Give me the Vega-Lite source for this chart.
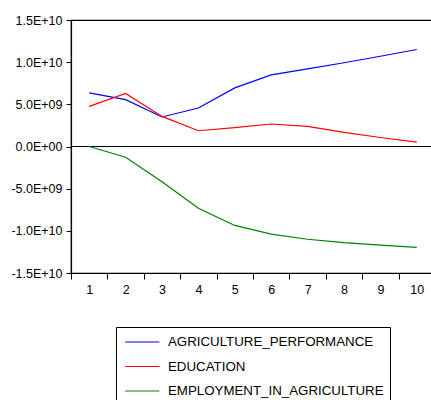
{
  "$schema": "https://vega.github.io/schema/vega-lite/v6.json",
  "width": 364,
  "height": 253,
  "autosize": {"type": "none"},
  "padding": {"left": 71, "top": 20, "right": 0, "bottom": 127},
  "background": "white",
  "config": {
    "view": {"stroke": "black", "strokeWidth": 1.2},
    "font": "Liberation Sans",
    "axis": {"grid": false, "domainColor": "black", "domainWidth": 1.2, "tickColor": "black", "labelColor": "black", "labelFont": "Liberation Sans", "labelFontSize": 12.5, "title": null}
  },
  "data": {
    "values": [
      {"t": 1, "s": "AGRICULTURE_PERFORMANCE", "v": 6.36e9},
      {"t": 2, "s": "AGRICULTURE_PERFORMANCE", "v": 5.56e9},
      {"t": 3, "s": "AGRICULTURE_PERFORMANCE", "v": 3.5e9},
      {"t": 4, "s": "AGRICULTURE_PERFORMANCE", "v": 4.57e9},
      {"t": 5, "s": "AGRICULTURE_PERFORMANCE", "v": 6.95e9},
      {"t": 6, "s": "AGRICULTURE_PERFORMANCE", "v": 8.5e9},
      {"t": 7, "s": "AGRICULTURE_PERFORMANCE", "v": 9.2e9},
      {"t": 8, "s": "AGRICULTURE_PERFORMANCE", "v": 9.93e9},
      {"t": 9, "s": "AGRICULTURE_PERFORMANCE", "v": 10.7e9},
      {"t": 10, "s": "AGRICULTURE_PERFORMANCE", "v": 11.5e9},
      {"t": 1, "s": "EDUCATION", "v": 4.76e9},
      {"t": 2, "s": "EDUCATION", "v": 6.3e9},
      {"t": 3, "s": "EDUCATION", "v": 3.57e9},
      {"t": 4, "s": "EDUCATION", "v": 1.87e9},
      {"t": 5, "s": "EDUCATION", "v": 2.23e9},
      {"t": 6, "s": "EDUCATION", "v": 2.67e9},
      {"t": 7, "s": "EDUCATION", "v": 2.38e9},
      {"t": 8, "s": "EDUCATION", "v": 1.67e9},
      {"t": 9, "s": "EDUCATION", "v": 1.07e9},
      {"t": 10, "s": "EDUCATION", "v": 0.52e9},
      {"t": 1, "s": "EMPLOYMENT_IN_AGRICULTURE", "v": 0},
      {"t": 2, "s": "EMPLOYMENT_IN_AGRICULTURE", "v": -1.27e9},
      {"t": 3, "s": "EMPLOYMENT_IN_AGRICULTURE", "v": -4.17e9},
      {"t": 4, "s": "EMPLOYMENT_IN_AGRICULTURE", "v": -7.33e9},
      {"t": 5, "s": "EMPLOYMENT_IN_AGRICULTURE", "v": -9.36e9},
      {"t": 6, "s": "EMPLOYMENT_IN_AGRICULTURE", "v": -10.4e9},
      {"t": 7, "s": "EMPLOYMENT_IN_AGRICULTURE", "v": -11.0e9},
      {"t": 8, "s": "EMPLOYMENT_IN_AGRICULTURE", "v": -11.4e9},
      {"t": 9, "s": "EMPLOYMENT_IN_AGRICULTURE", "v": -11.7e9},
      {"t": 10, "s": "EMPLOYMENT_IN_AGRICULTURE", "v": -11.95e9}
    ]
  },
  "layer": [
    {
      "mark": {"type": "rule", "color": "black", "strokeWidth": 1.2},
      "encoding": {"y": {"datum": 0, "type": "quantitative"}}
    },
    {
      "mark": {"type": "line", "strokeWidth": 1.2},
      "encoding": {
        "x": {
          "field": "t", "type": "ordinal", "bandPosition": 0.5,
          "scale": {"type": "band", "paddingInner": 0, "paddingOuter": 0},
          "axis": {"tickBand": "extent", "labelAngle": 0, "tickSize": 6, "labelPadding": 4, "domain": true}
        },
        "y": {
          "field": "v", "type": "quantitative",
          "scale": {"domain": [-1.5e10, 1.5e10], "nice": false, "zero": false},
          "axis": {
            "values": [-1.5e10, -1e10, -5e9, 0, 5e9, 1e10, 1.5e10],
            "tickSize": 5, "labelPadding": 4,
            "labelExpr": "datum.value == 15000000000 ? '1.5E+10' : datum.value == 10000000000 ? '1.0E+10' : datum.value == 5000000000 ? '5.0E+09' : datum.value == 0 ? '0.0E+00' : datum.value == -5000000000 ? '-5.0E+09' : datum.value == -10000000000 ? '-1.0E+10' : '-1.5E+10'"
          }
        },
        "color": {
          "field": "s", "type": "nominal",
          "scale": {"domain": ["AGRICULTURE_PERFORMANCE", "EDUCATION", "EMPLOYMENT_IN_AGRICULTURE"], "range": ["#0000ff", "#ff0000", "#008000"]},
          "legend": {
            "title": null, "orient": "none", "legendX": 45, "legendY": 307,
            "symbolType": "M-0.71,0H3.42", "symbolSize": 276, "symbolStrokeWidth": 1.2,
            "labelFont": "Liberation Sans", "labelFontSize": 13.3, "labelColor": "black",
            "labelOffset": 28, "rowPadding": 8.5, "padding": 6,
            "strokeColor": "black", "fillColor": "white", "labelLimit": 400
          }
        }
      }
    }
  ]
}
